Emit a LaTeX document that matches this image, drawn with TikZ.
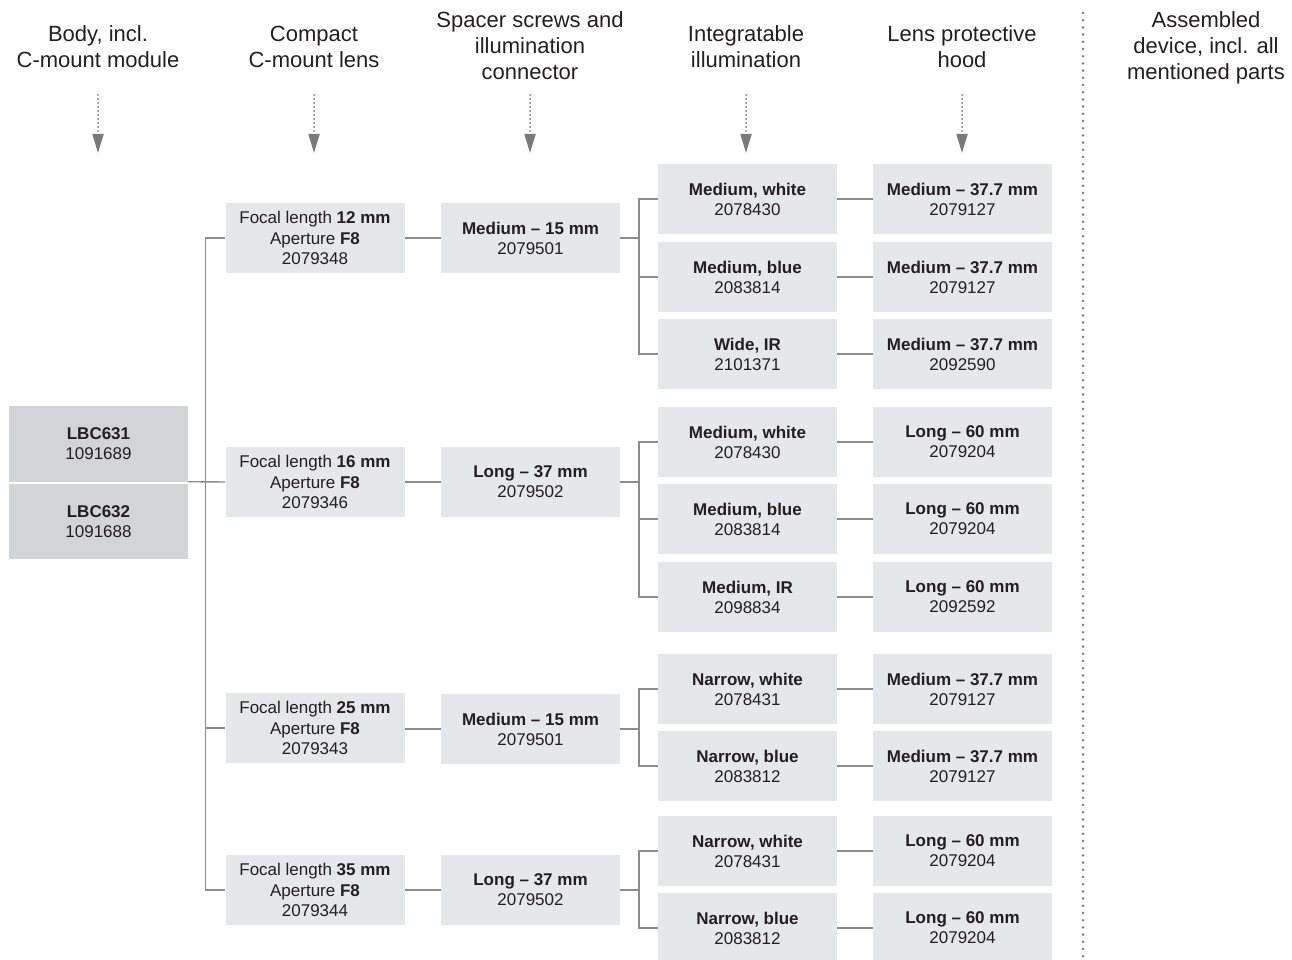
\documentclass[tikz,border=0pt]{standalone}
\usepackage{fontspec}
\setmainfont{Liberation Sans}
\usetikzlibrary{arrows.meta}
\definecolor{boxfill}{HTML}{E6E7E8}
\definecolor{bodyfill}{HTML}{D3D4D5}
\definecolor{linec}{HTML}{8C8C8C}
\definecolor{dotc}{HTML}{7A7A7A}
\definecolor{txt}{HTML}{231F20}
\definecolor{arrowc}{HTML}{7A7A7A}
\begin{document}
\begin{tikzpicture}[x=1pt,y=-1pt,
  box/.style={fill=boxfill, minimum width=179pt, minimum height=70pt, inner sep=0pt, align=center, text=txt, font=\fontsize{17}{20}\selectfont},
  lensbox/.style={box, font=\fontsize{17}{20.5}\selectfont},
  bodybox/.style={box, fill=bodyfill, minimum height=75.5pt},
  hdr/.style={align=center, text=txt, font=\fontsize{22}{26}\selectfont, inner sep=0pt, anchor=base},
  conn/.style={draw=linec, line width=1.4pt},
  hdrarrow/.style={draw=arrowc, line width=2pt, line cap=round, dash pattern=on 0pt off 4pt, -{Triangle[width=11pt,length=19pt,fill=arrowc]}},
  sepline/.style={draw=dotc, line width=2.8pt, line cap=round, dash pattern=on 0pt off 7.2pt}
]
\useasboundingbox (0,0) rectangle (1292,960);

% headers (base anchor = baseline of last line)
\node[hdr] (h1) at (98,68) {Body, incl.\\C-mount module};
\node[hdr] (h2) at (314,68) {Compact\\C-mount lens};
\node[hdr] (h3) at (530,80) {Spacer screws and\\illumination\\connector};
\node[hdr] (h4) at (746,68) {Integratable\\illumination};
\node[hdr] (h5) at (962,68) {Lens protective\\hood};
\node[hdr] (h6) at (1206,80) {Assembled\\device, incl. all\\mentioned parts};

% header arrows
\foreach \i/\x in {1/98,2/314,3/530,4/746,5/962}{
  \coordinate (as\i) at (\x,95);
  \coordinate (ae\i) at (\x,153);
  \draw[hdrarrow] (as\i) -- (ae\i);
}

% separator
\coordinate (sepT) at (1083,13);
\coordinate (sepB) at (1083,960);
\draw[sepline] (sepT) -- (sepB);

% body
\node[bodybox] (lbc1) at (98.5,443.75) {\textbf{LBC631}\\1091689};
\node[bodybox] (lbc2) at (98.5,521.25) {\textbf{LBC632}\\1091688};

% lenses
\node[lensbox] (L1) at (315,238) {Focal length \textbf{12 mm}\\Aperture \textbf{F8}\\2079348};
\node[lensbox] (L2) at (315,482) {Focal length \textbf{16 mm}\\Aperture \textbf{F8}\\2079346};
\node[lensbox] (L3) at (315,728) {Focal length \textbf{25 mm}\\Aperture \textbf{F8}\\2079343};
\node[lensbox] (L4) at (315,890) {Focal length \textbf{35 mm}\\Aperture \textbf{F8}\\2079344};

% spacers
\node[box] (S1) at (530.5,238) {\textbf{Medium -- 15 mm}\\2079501};
\node[box] (S2) at (530.5,482) {\textbf{Long -- 37 mm}\\2079502};
\node[box] (S3) at (530.5,729) {\textbf{Medium -- 15 mm}\\2079501};
\node[box] (S4) at (530.5,890) {\textbf{Long -- 37 mm}\\2079502};

% illumination
\node[box] (I11) at (747.5,199) {\textbf{Medium, white}\\2078430};
\node[box] (I12) at (747.5,277) {\textbf{Medium, blue}\\2083814};
\node[box] (I13) at (747.5,354) {\textbf{Wide, IR}\\2101371};
\node[box] (I21) at (747.5,442) {\textbf{Medium, white}\\2078430};
\node[box] (I22) at (747.5,519) {\textbf{Medium, blue}\\2083814};
\node[box] (I23) at (747.5,597) {\textbf{Medium, IR}\\2098834};
\node[box] (I31) at (747.5,689) {\textbf{Narrow, white}\\2078431};
\node[box] (I32) at (747.5,766) {\textbf{Narrow, blue}\\2083812};
\node[box] (I41) at (747.5,851) {\textbf{Narrow, white}\\2078431};
\node[box] (I42) at (747.5,928) {\textbf{Narrow, blue}\\2083812};

% hoods
\node[box] (H11) at (962.5,199) {\textbf{Medium -- 37.7 mm}\\2079127};
\node[box] (H12) at (962.5,277) {\textbf{Medium -- 37.7 mm}\\2079127};
\node[box] (H13) at (962.5,354) {\textbf{Medium -- 37.7 mm}\\2092590};
\node[box] (H21) at (962.5,442) {\textbf{Long -- 60 mm}\\2079204};
\node[box] (H22) at (962.5,519) {\textbf{Long -- 60 mm}\\2079204};
\node[box] (H23) at (962.5,597) {\textbf{Long -- 60 mm}\\2092592};
\node[box] (H31) at (962.5,689) {\textbf{Medium -- 37.7 mm}\\2079127};
\node[box] (H32) at (962.5,766) {\textbf{Medium -- 37.7 mm}\\2079127};
\node[box] (H41) at (962.5,851) {\textbf{Long -- 60 mm}\\2079204};
\node[box] (H42) at (962.5,928) {\textbf{Long -- 60 mm}\\2079204};

% main trunk
\draw[conn] (lbc1.south east) -- (L2.west);
\draw[conn] (L1.west) -- ++(-20,0) |- (L4.west);
\draw[conn] (L3.west) -- ++(-20,0);

% lens -> spacer
\foreach \i in {1,2,3,4}{
  \draw[conn] (S\i.west) -- (S\i.west -| L\i.east);
  \draw[conn] (S\i.east) -- ++(19,0);
}

% sub trunks
\draw[conn] (I11.west) -- ++(-19,0) |- (I13.west);
\draw[conn] (I12.west) -- ++(-19,0);
\draw[conn] (I21.west) -- ++(-19,0) |- (I23.west);
\draw[conn] (I22.west) -- ++(-19,0);
\draw[conn] (I31.west) -- ++(-19,0) |- (I32.west);
\draw[conn] (I41.west) -- ++(-19,0) |- (I42.west);

% illum -> hood
\foreach \i in {11,12,13,21,22,23,31,32,41,42}{
  \draw[conn] (I\i.east) -- (H\i.west);
}
\end{tikzpicture}
\end{document}
